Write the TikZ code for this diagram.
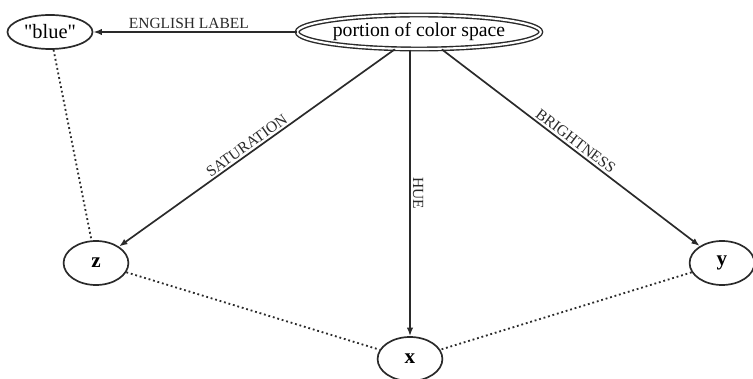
\documentclass[tikz,border=0pt]{standalone}
\usepackage{fontspec}
\setmainfont{Liberation Serif}
\usetikzlibrary{arrows.meta,shapes.geometric}

\definecolor{ink}{HTML}{2A2A2A}

\begin{document}
\begin{tikzpicture}[x=0.025cm,y=-0.025cm,
  oval/.style={ellipse,draw=ink,line width=1.2pt,inner sep=0pt,text=black},
  var/.style={oval,minimum width=1.62cm,minimum height=1.1cm,font=\fontsize{15}{16}\selectfont\bfseries},
  tag/.style={inner sep=1.5pt,font=\fontsize{11}{12}\selectfont,text=ink},
  link/.style={draw=ink,line width=1.2pt,-{Latex[length=6pt,width=4.5pt]}},
  tie/.style={draw=ink,line width=1.3pt,dotted}]
\useasboundingbox (0,0) rectangle (753,379);
% nodes
\node[oval,minimum width=2.125cm,minimum height=0.85cm,font=\fontsize{14.5}{16}\selectfont] (blue) at (50,32) {\textquotedbl blue\textquotedbl};
\node[oval,double,double distance=1.5pt,line width=1pt,minimum width=5.9cm,minimum height=0.85cm,
  font=\fontsize{14}{16}\selectfont] (space) at (419,32) {portion of color space};
\node[var] (z) at (96,263) {z};
\node[var] (x) at (410,359) {x};
\node[var] (y) at (722,263) {y};
% labelled arrows
\draw[link] (space) -- node[tag,above,pos=0.53] {ENGLISH LABEL} (blue);
\draw[link] (space) -- node[tag,sloped,above,pos=0.52] {SATURATION} (z);
\draw[link] (space.south -| x) -- node[tag,sloped,above] {HUE} (x);
\draw[link] (space) -- node[tag,sloped,above,pos=0.5] {BRIGHTNESS} (y);
% dotted ties
\draw[tie] (blue) -- (z);
\draw[tie] (z) -- (x);
\draw[tie] (y) -- (x);
\end{tikzpicture}
\end{document}
